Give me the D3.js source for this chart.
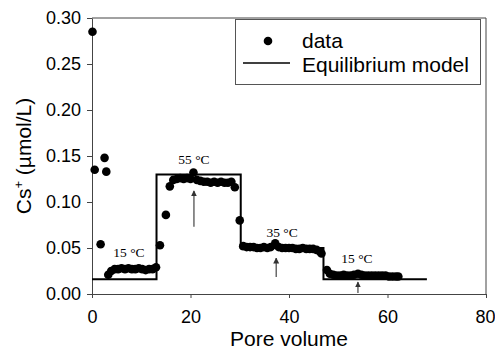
<!DOCTYPE html>
<html lang="en">
<head>
  <meta charset="UTF-8">
  <title>Cs+ vs pore volume</title>
  <script src="https://d3js.org/d3.v7.min.js"></script>
  <style>
    body { margin: 0; padding: 0; background: #fff; }
    svg { display: block; font-family: 'Liberation Sans', Arial, sans-serif; }
    .temp { font-family: 'Liberation Serif', 'Times New Roman', serif; font-size: 13.5px; }
  </style>
</head>
<body>
  <script>
    // measured data (pore volume, Cs+ umol/L)
    var dataX = [0.1, 0.55, 1.75, 2.55, 2.9,
      3.3, 3.9, 4.6, 5.3, 6.0, 6.7, 7.4, 8.1, 8.8, 9.5, 10.2, 10.9, 11.6, 12.3, 13.0,
      13.8, 15.0, 15.8,
      16.5, 17.2, 17.9, 18.6, 19.3, 20.0, 20.6, 21.3, 22.0, 22.7, 23.4, 24.1, 24.8, 25.5, 26.2, 26.9, 27.6, 28.3, 29.0,
      30.0,
      30.7, 31.4, 32.1, 32.8, 33.5, 34.2, 34.9, 35.6, 36.3, 37.2, 37.9, 38.6, 39.3, 40.0, 40.7, 41.4, 42.1, 42.8, 43.5, 44.2, 44.9, 45.6, 46.3, 46.6,
      47.7,
      48.3, 49.0, 49.7, 50.4, 51.1, 51.8, 52.5, 53.2, 54.0, 54.7, 55.4, 56.1, 56.8, 57.5, 58.2, 58.9, 59.6, 60.3, 61.0, 61.7, 62.2];
    var dataY = [0.285, 0.135, 0.054, 0.148, 0.133,
      0.021, 0.025, 0.027, 0.027, 0.028, 0.027, 0.028, 0.027, 0.027, 0.028, 0.027, 0.026, 0.027, 0.027, 0.029,
      0.053, 0.086, 0.117,
      0.124, 0.125, 0.126, 0.125, 0.126, 0.125, 0.132, 0.124, 0.123, 0.122, 0.122, 0.121, 0.122, 0.121, 0.122, 0.121, 0.121, 0.122, 0.116,
      0.080,
      0.052, 0.051, 0.051, 0.051, 0.050, 0.050, 0.051, 0.050, 0.051, 0.055, 0.051, 0.050, 0.050, 0.050, 0.050, 0.049, 0.049, 0.050, 0.049, 0.049, 0.049, 0.048, 0.046, 0.044,
      0.026,
      0.022, 0.021, 0.020, 0.020, 0.021, 0.020, 0.020, 0.021, 0.022, 0.021, 0.020, 0.020, 0.020, 0.020, 0.020, 0.020, 0.020, 0.019, 0.019, 0.019, 0.019];

    // equilibrium model (step corners)
    var modelX = [0, 13.1, 13.1, 30.2, 30.2, 47.0, 47.0, 68];
    var modelY = [0.016, 0.016, 0.130, 0.130, 0.050, 0.050, 0.016, 0.016];

    // temperature labels and arrows
    var tempLabels = ["15 °C", "55 °C", "35 °C", "15 °C"];
    var tempX = [7.5, 20.7, 38.6, 53.8];
    var tempY = [0.040, 0.141, 0.062, 0.034];
    var arrowX = [20.7, 37.4, 54.0];
    var arrowFrom = [0.073, 0.0185, 0.001];
    var arrowTo = [0.112, 0.039, 0.013];

    var xTicks = [0, 20, 40, 60, 80];
    var yTicks = [0, 0.05, 0.10, 0.15, 0.20, 0.25, 0.30];

    var W = 495, H = 350;
    var mLeft = 92, mRight = 486, mTop = 18, mBottom = 294;

    var svg = d3.select("body").append("svg")
        .attr("width", W)
        .attr("height", H);

    var x = d3.scaleLinear().domain([0, 80]).range([mLeft, mRight]);
    var y = d3.scaleLinear().domain([0, 0.30]).range([mBottom, mTop]);

    // frame top / right
    svg.append("line").attr("x1", mLeft).attr("x2", mRight).attr("y1", mTop).attr("y2", mTop)
        .attr("stroke", "#444").attr("stroke-width", 1);
    svg.append("line").attr("x1", mRight).attr("x2", mRight).attr("y1", mTop).attr("y2", mBottom)
        .attr("stroke", "#444").attr("stroke-width", 1);

    // axes
    var xAxis = svg.append("g")
        .attr("transform", "translate(0," + mBottom + ")")
        .call(d3.axisBottom(x).tickValues(xTicks).tickSize(4).tickPadding(12).tickSizeOuter(0));
    var yAxis = svg.append("g")
        .attr("transform", "translate(" + mLeft + ",0)")
        .call(d3.axisLeft(y).tickValues(yTicks).tickSize(5).tickPadding(6).tickSizeOuter(0)
          .tickFormat(d3.format(".2f")));

    [xAxis, yAxis].forEach(function(a) {
      a.select(".domain").attr("stroke", "#444");
      a.selectAll(".tick line").attr("stroke", "#444");
      a.selectAll(".tick text")
        .attr("fill", "#000")
        .style("font-family", "'Liberation Sans', Arial, sans-serif")
        .style("font-size", "18px");
    });
    // last x label sits against the window edge
    xAxis.selectAll(".tick text").filter(function(d) { return d === 80; }).attr("dx", -1);

    // axis titles
    svg.append("text")
        .attr("x", (mLeft + mRight) / 2)
        .attr("y", 346)
        .attr("text-anchor", "middle")
        .style("font-size", "21px")
        .text("Pore volume");

    var yt = svg.append("text")
        .attr("transform", "translate(31," + ((mTop + mBottom) / 2) + ") rotate(-90)")
        .attr("text-anchor", "middle")
        .style("font-size", "21px");
    yt.append("tspan").text("Cs");
    yt.append("tspan").attr("dy", -8).style("font-size", "13px").text("+");
    yt.append("tspan").attr("dy", 8).text(" (µmol/L)");

    // model line
    var modelPts = modelX.map(function(d, i) { return [d, modelY[i]]; });
    svg.append("path")
        .datum(modelPts)
        .attr("fill", "none")
        .attr("stroke", "#000")
        .attr("stroke-width", 2)
        .attr("d", d3.line().x(function(d) { return x(d[0]); }).y(function(d) { return y(d[1]); }));

    // data points
    svg.append("g")
      .selectAll("circle")
      .data(dataX.map(function(d, i) { return [d, dataY[i]]; }))
      .enter().append("circle")
        .attr("cx", function(d) { return x(d[0]); })
        .attr("cy", function(d) { return y(d[1]); })
        .attr("r", 4.3)
        .attr("fill", "#000");

    // arrows
    var defs = svg.append("defs");
    defs.append("marker")
        .attr("id", "head")
        .attr("viewBox", "0 0 10 10")
        .attr("refX", 9).attr("refY", 5)
        .attr("markerWidth", 6).attr("markerHeight", 7)
        .attr("markerUnits", "userSpaceOnUse")
        .attr("orient", "auto")
      .append("path")
        .attr("d", "M0,0L10,5L0,10Z")
        .attr("fill", "#333");

    svg.append("g")
      .selectAll("line")
      .data(arrowX)
      .enter().append("line")
        .attr("x1", function(d) { return x(d); })
        .attr("x2", function(d) { return x(d); })
        .attr("y1", function(d, i) { return y(arrowFrom[i]); })
        .attr("y2", function(d, i) { return y(arrowTo[i]); })
        .attr("stroke", "#444")
        .attr("stroke-width", 1.2)
        .attr("marker-end", "url(#head)");

    // temperature labels
    svg.append("g")
      .selectAll("text")
      .data(tempLabels)
      .enter().append("text")
        .attr("class", "temp")
        .attr("x", function(d, i) { return x(tempX[i]); })
        .attr("y", function(d, i) { return y(tempY[i]); })
        .attr("text-anchor", "middle")
        .text(function(d) { return d; });

    // legend
    var lg = svg.append("g");
    lg.append("rect")
        .attr("x", 235.5).attr("y", 19.5)
        .attr("width", 245).attr("height", 65)
        .attr("fill", "#fff")
        .attr("stroke", "#555");
    lg.append("circle").attr("cx", 268).attr("cy", 41).attr("r", 4.3).attr("fill", "#000");
    lg.append("line").attr("x1", 243).attr("x2", 290).attr("y1", 63).attr("y2", 63)
        .attr("stroke", "#000").attr("stroke-width", 1.5);
    lg.append("text").attr("x", 302).attr("y", 48).style("font-size", "21px").text("data");
    lg.append("text").attr("x", 302).attr("y", 72).style("font-size", "21px").text("Equilibrium model");
  </script>
</body>
</html>
